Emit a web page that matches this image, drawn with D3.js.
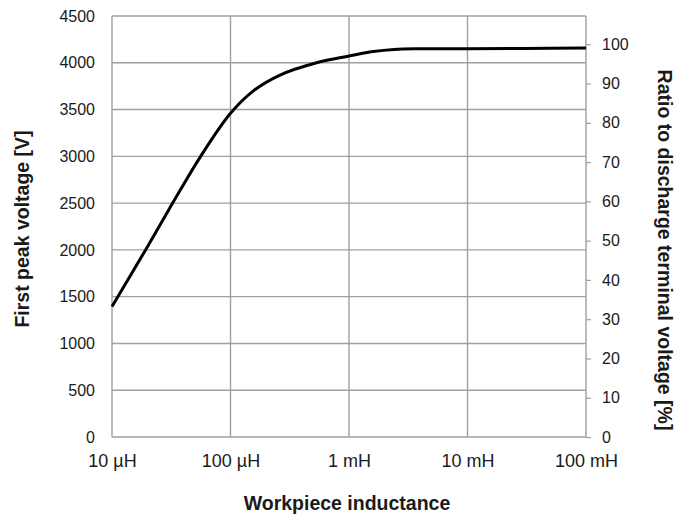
<!DOCTYPE html>
<html>
<head>
<meta charset="utf-8">
<script src="https://cdn.jsdelivr.net/npm/d3@7"></script>
<style>
  body { margin: 0; background: #fff; }
  text { font-family: "Liberation Sans", Arial, sans-serif; fill: #1a1a1a; }
</style>
</head>
<body>
<div id="chart"></div>
<script>
// inductance in µH, first peak voltage in V
var inductance = [10, 19.2, 32.5, 56, 100, 156, 262, 533, 1000, 1600, 2400, 4000, 10000, 30000, 100000]
var peakVoltage = [1395, 2000, 2500, 3000, 3460, 3700, 3869, 4000, 4072, 4120, 4143, 4150, 4150, 4153, 4158]

var xTicks = [10, 100, 1000, 10000, 100000]
var xTickLabels = ["10 µH", "100 µH", "1 mH", "10 mH", "100 mH"]
var yTicks = [0, 500, 1000, 1500, 2000, 2500, 3000, 3500, 4000, 4500]
var ratioTicks = [0, 10, 20, 30, 40, 50, 60, 70, 80, 90, 100]

var width = 681, height = 517
var margin = {top: 16, right: 95, bottom: 80, left: 112}
var w = width - margin.left - margin.right,
    h = height - margin.top - margin.bottom

var svg = d3.select("#chart")
  .append("svg")
    .attr("width", width)
    .attr("height", height)

var g = svg.append("g")
    .attr("transform", "translate(" + margin.left + "," + margin.top + ")")

// scales
var x = d3.scaleLog().domain([10, 100000]).range([0, w])
var y = d3.scaleLinear().domain([0, 4500]).range([h, 0])
var y2 = d3.scaleLinear().domain([0, 107.2]).range([h, 0])

var gridColor = "#a0a0a0"

// horizontal grid
g.append("g")
  .selectAll("line")
  .data(yTicks)
  .enter().append("line")
    .attr("x1", 0).attr("x2", w)
    .attr("y1", function(d) { return y(d) })
    .attr("y2", function(d) { return y(d) })
    .attr("stroke", gridColor)
    .attr("stroke-width", 1.4)

// vertical grid
g.append("g")
  .selectAll("line")
  .data(xTicks)
  .enter().append("line")
    .attr("y1", 0).attr("y2", h)
    .attr("x1", function(d) { return x(d) })
    .attr("x2", function(d) { return x(d) })
    .attr("stroke", gridColor)
    .attr("stroke-width", 1.4)

// left axis (labels only)
var yAxis = g.append("g")
  .call(d3.axisLeft(y).tickValues(yTicks).tickSize(0).tickPadding(17).tickFormat(d3.format("d")))
yAxis.select(".domain").remove()
yAxis.selectAll("text").style("font-size", "16px")

// bottom axis (labels only)
var xAxis = g.append("g")
  .attr("transform", "translate(0," + h + ")")
  .call(d3.axisBottom(x).tickValues(xTicks).tickSize(0).tickPadding(17)
    .tickFormat(function(d, i) { return xTickLabels[i] }))
xAxis.select(".domain").remove()
xAxis.selectAll("text").style("font-size", "18px")

// right axis with small outer ticks
var rAxis = g.append("g")
  .attr("transform", "translate(" + w + ",0)")
  .call(d3.axisRight(y2).tickValues(ratioTicks).tickSize(5).tickSizeOuter(0).tickPadding(11))
rAxis.select(".domain").remove()
rAxis.selectAll("line").attr("stroke", gridColor).attr("stroke-width", 1.2)
rAxis.selectAll("text").style("font-size", "16px")

// the curve
var line = d3.line()
  .curve(d3.curveCatmullRom.alpha(0.5))
  .x(function(d) { return x(d[0]) })
  .y(function(d) { return y(d[1]) })

g.append("path")
  .datum(d3.zip(inductance, peakVoltage))
  .attr("d", line)
  .attr("fill", "none")
  .attr("stroke", "#000")
  .attr("stroke-width", 3)

// axis titles
svg.append("text")
  .attr("x", 347)
  .attr("y", 510)
  .attr("text-anchor", "middle")
  .style("font-size", "19.5px")
  .style("font-weight", "bold")
  .text("Workpiece inductance")

svg.append("text")
  .attr("transform", "translate(29,229) rotate(-90)")
  .attr("text-anchor", "middle")
  .style("font-size", "19.5px")
  .style("font-weight", "bold")
  .text("First peak voltage [V]")

svg.append("text")
  .attr("transform", "translate(658,250) rotate(90)")
  .attr("text-anchor", "middle")
  .style("font-size", "19.5px")
  .style("font-weight", "bold")
  .text("Ratio to discharge terminal voltage [%]")
</script>
</body>
</html>
